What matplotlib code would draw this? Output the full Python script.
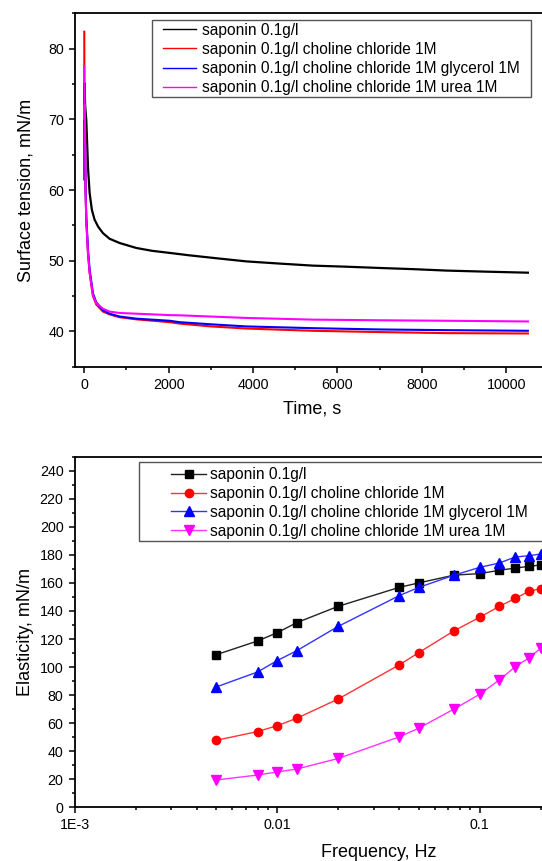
import matplotlib
matplotlib.use("Agg")
import matplotlib.pyplot as plt
from matplotlib.patches import Rectangle
from matplotlib.ticker import MultipleLocator, FixedLocator, FuncFormatter, LogLocator, NullFormatter

plt.rcParams['font.family'] = ['Liberation Sans', 'DejaVu Sans']

# ---------- Top panel: dynamic surface tension ----------
labels = ["saponin 0.1g/l",
          "saponin 0.1g/l choline chloride 1M",
          "saponin 0.1g/l choline chloride 1M glycerol 1M",
          "saponin 0.1g/l choline chloride 1M urea 1M"]
colors = ["#000000", "#ff0000", "#0000ff", "#ff00ff"]

t_black = [0, 5, 20, 47, 90, 126, 180, 244, 330, 442, 600, 837, 1232, 1600, 2022, 2500, 3200,
           3839, 4600, 5417, 6200, 6998, 7800, 8578, 9500, 10512]
st_black = [71.3, 75.0, 72.0, 69.9, 63.0, 59.6, 57.2, 55.8, 54.8, 53.9, 53.1, 52.5, 51.8, 51.4, 51.1,
            50.75, 50.3, 49.9, 49.6, 49.3, 49.15, 48.97, 48.8, 48.6, 48.45, 48.3]

t_red = [0, 4, 10, 30, 47, 87, 126, 205, 284, 442, 600, 837, 1232, 2022, 2258, 3000, 3839, 5417,
         6998, 8578, 10512]
st_red = [82.4, 61.4, 74.0, 60.0, 55.8, 51.1, 48.3, 45.0, 43.8, 42.8, 42.4, 42.0, 41.7, 41.3, 41.1,
          40.7, 40.4, 40.08, 39.9, 39.75, 39.7]

t_blue = [0, 6, 12, 30, 47, 87, 126, 205, 284, 442, 600, 837, 1232, 2022, 2258, 3000, 3839, 5417,
          6998, 8578, 10512]
st_blue = [72.0, 75.1, 70.0, 60.5, 56.2, 51.6, 48.8, 45.4, 44.1, 43.0, 42.5, 42.1, 41.8, 41.5, 41.3,
           41.0, 40.7, 40.45, 40.27, 40.17, 40.08]

t_mag = [0, 6, 12, 30, 47, 87, 126, 205, 284, 442, 600, 837, 1232, 2022, 2258, 3839, 5417, 6998,
         8578, 10512]
st_mag = [77.5, 70.0, 72.0, 60.0, 55.8, 51.2, 48.4, 45.1, 44.0, 43.2, 42.8, 42.6, 42.5, 42.3, 42.27,
          41.9, 41.66, 41.57, 41.5, 41.4]

# ---------- Bottom panel: elasticity vs frequency ----------
freq = [0.005, 0.008, 0.01, 0.0125, 0.02, 0.04, 0.05, 0.075, 0.1, 0.125, 0.15, 0.175, 0.2]
el_black = [108.8, 118.6, 124.5, 131.7, 143.3, 156.8, 160.0, 165.6, 166.6, 169.0, 170.6, 171.8, 172.8]
el_red = [47.8, 54.0, 58.2, 63.5, 77.2, 101.5, 110.3, 126.0, 135.5, 143.3, 149.0, 154.0, 155.9]
el_blue = [85.8, 96.5, 104.6, 111.7, 129.0, 150.9, 156.8, 165.6, 171.1, 174.2, 178.5, 179.4, 180.6]
el_mag = [19.5, 23.0, 25.2, 27.3, 34.8, 50.2, 56.4, 70.2, 80.6, 90.8, 100.3, 106.5, 113.4]

W, H = 542, 861
fig = plt.figure(figsize=(W / 100, H / 100), dpi=100)

def px_axes(left, top, right, bottom):
    return fig.add_axes([left / W, 1 - bottom / H, (right - left) / W, (bottom - top) / H])

def px_frame(left, top, right, bottom):
    fig.patches.append(Rectangle((left / W, 1 - bottom / H), (right - left) / W, (bottom - top) / H,
                                 transform=fig.transFigure, fill=False, edgecolor='#555555',
                                 linewidth=1.0, zorder=5))

def style(ax):
    for s in ax.spines.values():
        s.set_linewidth(1.3)
    ax.tick_params(which='both', direction='out', top=False, right=False, width=1.1, labelsize=10.3,
                   colors='#000000')
    ax.tick_params(which='major', length=4.5)
    ax.tick_params(which='minor', length=2.5)

LEG_FS = 11.2

# top axes
ax1 = px_axes(75, 13.3, 548.5, 366.7)
ax1.plot(t_black, st_black, color=colors[0], lw=1.6, label=labels[0])
ax1.plot(t_red, st_red, color=colors[1], lw=1.5, label=labels[1])
ax1.plot(t_blue, st_blue, color=colors[2], lw=1.5, label=labels[2])
ax1.plot(t_mag, st_mag, color=colors[3], lw=1.5, label=labels[3])
ax1.set_xlim(-220, 11000)
ax1.set_ylim(35, 85)
ax1.xaxis.set_major_locator(FixedLocator([0, 2000, 4000, 6000, 8000, 10000]))
ax1.xaxis.set_minor_locator(MultipleLocator(1000))
ax1.yaxis.set_major_locator(FixedLocator([40, 50, 60, 70, 80]))
ax1.yaxis.set_minor_locator(MultipleLocator(5))
style(ax1)
ax1.set_xlabel("Time, s", fontsize=13, labelpad=6)
ax1.set_ylabel("Surface tension, mN/m", fontsize=13, labelpad=10)
leg1 = ax1.legend(loc='center left', bbox_to_anchor=(163 / W, 1 - 58.9 / H), bbox_transform=fig.transFigure,
                  fontsize=LEG_FS, frameon=False, handlelength=2.1, handletextpad=0.4,
                  borderpad=0, labelspacing=0.27, borderaxespad=0)
for l in leg1.get_lines():
    l.set_linewidth(1.0)
px_frame(151.7, 20, 530.7, 96.7)

# bottom axes
ax2 = px_axes(74.7, 456.7, 74.7 + 3 * 202.5, 807.3)
ax2.set_xscale('log')
ax2.plot(freq, el_black, color='#222222', lw=1.0, marker='s', ms=5.5, mfc=colors[0], mec=colors[0], label=labels[0])
ax2.plot(freq, el_red, color='#ff3333', lw=1.0, marker='o', ms=6, mfc=colors[1], mec=colors[1], label=labels[1])
ax2.plot(freq, el_blue, color='#3333ff', lw=1.0, marker='^', ms=7, mfc=colors[2], mec=colors[2], label=labels[2])
ax2.plot(freq, el_mag, color='#ff33ff', lw=1.0, marker='v', ms=7, mfc=colors[3], mec=colors[3], label=labels[3])
ax2.set_xlim(1e-3, 1)
ax2.set_ylim(0, 250)
ax2.xaxis.set_major_locator(FixedLocator([1e-3, 1e-2, 1e-1]))
ax2.xaxis.set_major_formatter(FuncFormatter(lambda v, p: {1e-3: "1E-3", 1e-2: "0.01", 1e-1: "0.1"}.get(round(v, 6), "")))
ax2.xaxis.set_minor_locator(LogLocator(base=10, subs=range(2, 10), numticks=20))
ax2.xaxis.set_minor_formatter(NullFormatter())
ax2.yaxis.set_major_locator(MultipleLocator(20))
ax2.yaxis.set_minor_locator(MultipleLocator(10))
style(ax2)
ax2.set_xlabel("Frequency, Hz", fontsize=13, labelpad=8)
ax2.set_ylabel("Elasticity, mN/m", fontsize=13, labelpad=4)
leg2 = ax2.legend(loc='center left', bbox_to_anchor=(171 / W, 1 - 503 / H), bbox_transform=fig.transFigure,
                  fontsize=LEG_FS, frameon=False, handlelength=2.25, handletextpad=0.26,
                  borderpad=0, labelspacing=0.25, borderaxespad=0)
px_frame(139.3, 461.7, 570, 540.7)

fig.savefig("out.png", dpi=100)
